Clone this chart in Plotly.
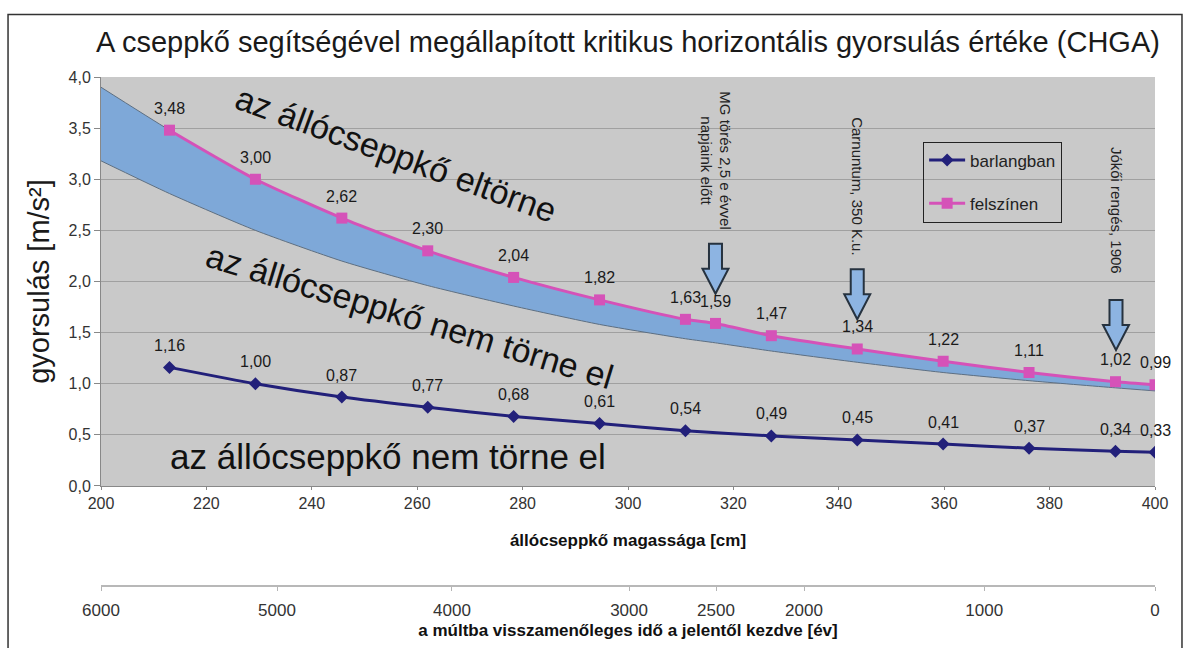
import plotly.graph_objects as go

# ---------------- data ----------------
felszin_cm = [213.0, 229.3, 245.7, 262.0, 278.3, 294.6, 310.9, 316.6, 327.2, 343.5, 359.8, 376.1, 392.5, 400.0]
felszinen = [3.48, 3.00, 2.62, 2.30, 2.04, 1.82, 1.63, 1.59, 1.47, 1.34, 1.22, 1.11, 1.02, 0.99]

barlang_cm = [213.0, 229.3, 245.7, 262.0, 278.3, 294.6, 310.9, 327.2, 343.5, 359.8, 376.1, 392.5, 400.0]
barlangban = [1.16, 1.00, 0.87, 0.77, 0.68, 0.61, 0.54, 0.49, 0.45, 0.41, 0.37, 0.34, 0.33]

band_cm = [200.0, 213.0, 229.3, 245.7, 262.0, 278.3, 294.6, 310.9, 316.6, 327.2, 343.5, 359.8, 376.1, 392.5, 400.0]
band_upper = [3.90, 3.48, 3.00, 2.62, 2.30, 2.04, 1.82, 1.63, 1.59, 1.47, 1.34, 1.22, 1.11, 1.02, 0.99]
band_lower = [3.18, 2.86, 2.50, 2.20, 1.96, 1.76, 1.58, 1.44, 1.40, 1.32, 1.21, 1.11, 1.03, 0.96, 0.93]

cm_ticks = [200, 220, 240, 260, 280, 300, 320, 340, 360, 380, 400]
time_labels = ["6000", "5000", "4000", "3000", "2500", "2000", "1000", "0"]
time_tick_cm = [200.0, 233.4, 266.6, 300.2, 316.7, 333.4, 367.6, 400.0]

event_texts = ["MG törés 2,5 e évvel<br>napjaink előtt", "Carnuntum, 350 K.u.", "Jókői rengés, 1906"]
event_cm = [316.6, 343.5, 392.6]
event_text_y = [3.18, 2.93, 2.70]
event_tip_y = [1.88, 1.63, 1.33]

FONT = "Liberation Sans, Arial, sans-serif"
PINK = "#d552b8"
NAVY = "#22207a"

fig = go.Figure()

# blue band
fig.add_trace(go.Scatter(x=band_cm, y=band_lower, mode="lines",
                         line=dict(color="#5d6f82", width=1, shape="spline", smoothing=0.6),
                         showlegend=False, hoverinfo="skip"))
fig.add_trace(go.Scatter(x=band_cm, y=band_upper, mode="lines", fill="tonexty",
                         fillcolor="#7ea8d8",
                         line=dict(color="#5d6f82", width=1, shape="spline", smoothing=0.6),
                         showlegend=False, hoverinfo="skip"))

fig.add_trace(go.Scatter(x=barlang_cm, y=barlangban, mode="lines+markers", name="barlangban",
                         legendgroup="a",
                         line=dict(color=NAVY, width=3, shape="spline", smoothing=0.6),
                         marker=dict(symbol="diamond", size=10, color=NAVY)))
fig.add_trace(go.Scatter(x=felszin_cm, y=felszinen, mode="lines+markers", name="felszínen",
                         legendgroup="b",
                         line=dict(color=PINK, width=3, shape="spline", smoothing=0.6),
                         marker=dict(symbol="square", size=11, color=PINK)))

# invisible trace to carry the time axis
fig.add_trace(go.Scatter(x=time_tick_cm, y=[None] * len(time_tick_cm), xaxis="x2", yaxis="y",
                         mode="markers", marker=dict(opacity=0), showlegend=False, hoverinfo="skip"))

annotations = []
for xs, ys in ((felszin_cm, felszinen), (barlang_cm, barlangban)):
    for xv, yv in zip(xs, ys):
        annotations.append(dict(x=xv, y=yv, xref="x", yref="y", text=f"{yv:.2f}".replace(".", ","),
                                showarrow=False, yshift=22, font=dict(size=16, color="#1a1a1a", family=FONT)))

annotations += [
    dict(x=256, y=3.25, xref="x", yref="y", text="az állócseppkő eltörne", textangle=20,
         showarrow=False, font=dict(size=34, color="#111", family=FONT)),
    dict(x=258.5, y=1.66, xref="x", yref="y", text="az állócseppkő nem törne el", textangle=17,
         showarrow=False, font=dict(size=34, color="#111", family=FONT)),
    dict(x=254.5, y=0.29, xref="x", yref="y", text="az állócseppkő nem törne el", textangle=0,
         showarrow=False, font=dict(size=35, color="#111", family=FONT)),
]
for t, xv, yv in zip(event_texts, event_cm, event_text_y):
    annotations.append(dict(x=xv, y=yv, xref="x", yref="y", text=t, textangle=90, showarrow=False,
                            font=dict(size=15, color="#222", family=FONT)))

shapes = []
for xv, yv in zip(event_cm, event_tip_y):
    shapes.append(dict(type="path", xref="x", yref="y", xsizemode="pixel", ysizemode="pixel",
                       xanchor=xv, yanchor=yv,
                       path="M0,0 L-13,25 L-6.5,25 L-6.5,50 L6.5,50 L6.5,25 L13,25 Z",
                       fillcolor="#8db4e2", line=dict(color="#26323f", width=2), layer="above"))
# outer frame
shapes.append(dict(type="rect", xref="paper", yref="paper", x0=-0.0882, x1=1.0256, y0=-0.06, y1=1.1143,
                   line=dict(color="#333", width=1.5), fillcolor="rgba(0,0,0,0)", layer="above"))

fig.update_layout(
    width=1188, height=648,
    margin=dict(l=101, r=33, t=77, b=20),
    paper_bgcolor="white", plot_bgcolor="#c9c9c9",
    separators=", ",
    font=dict(family=FONT, size=16, color="#333"),
    title=dict(text="A cseppkő segítségével megállapított kritikus horizontális gyorsulás értéke (CHGA)",
               x=628 / 1188, xref="container", xanchor="center",
               y=1 - 42 / 648, yref="container", yanchor="middle",
               font=dict(size=29, color="#1a1a1a", family=FONT)),
    xaxis=dict(range=[200, 400], tickmode="array", tickvals=cm_ticks, ticks="outside", ticklen=3,
               tickcolor="#888", showline=True, linecolor="#888", showgrid=False, zeroline=False,
               anchor="y", tickfont=dict(size=16, color="#333"),
               title=dict(text="<b>állócseppkő magassága [cm]</b>", standoff=22,
                          font=dict(size=17, color="#111"))),
    xaxis2=dict(range=[200, 400], overlaying="x", anchor="free", position=0.069, side="bottom",
                tickmode="array", tickvals=time_tick_cm, ticktext=time_labels,
                ticks="outside", ticklen=4, tickcolor="#b5b5b5", showline=True, linecolor="#b8b8b8",
                linewidth=2, showgrid=False, zeroline=False, ticklabelstandoff=4,
                tickfont=dict(size=17, color="#333"),
                title=dict(text="<b>a múltba visszamenőleges idő a jelentől kezdve [év]</b>", standoff=4,
                           font=dict(size=17, color="#111"))),
    yaxis=dict(range=[0, 4], domain=[0.2523, 1], dtick=0.5, tick0=0, tickformat=".1f",
               showgrid=True, gridcolor="#a0a0a0", gridwidth=1, zeroline=False,
               showline=True, linecolor="#888", ticks="outside", ticklen=6, tickcolor="#888",
               tickfont=dict(size=16, color="#333"),
               title=dict(text="gyorsulás [m/s²]", standoff=10, font=dict(size=29, color="#1a1a1a"))),
    legend=dict(x=0.78, y=0.882, xanchor="left", yanchor="top", bgcolor="rgba(0,0,0,0)",
                bordercolor="#222", borderwidth=1, font=dict(size=17, color="#222"),
                tracegroupgap=18, itemwidth=36),
    annotations=annotations,
    shapes=shapes,
    hovermode=False,
)

fig.write_html("out.html", config={"displayModeBar": False},
               post_script="document.body.style.margin='0';document.body.style.overflow='hidden';")
